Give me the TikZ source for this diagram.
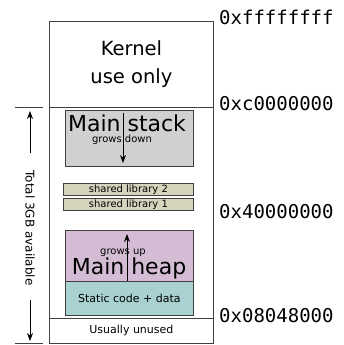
\documentclass[tikz,border=0pt]{standalone}
\usepackage{fontspec}
\setmainfont{DejaVu Sans}
\setmonofont{DejaVu Sans Mono}
\usepackage{tikz}
\usetikzlibrary{arrows.meta, positioning}
\definecolor{stackgray}{HTML}{D0D0D0}
\definecolor{libkhaki}{HTML}{D6D4BC}
\definecolor{heaplilac}{HTML}{D4BDD4}
\definecolor{statteal}{HTML}{A9D1D1}
\definecolor{edgegray}{HTML}{404040}
\tikzset{
		region/.style={draw=edgegray, line width=0.8pt, inner sep=0pt, anchor=north west},
		addr/.style={font=\ttfamily\fontsize{19}{19}\selectfont, anchor=west, inner sep=0pt},
		small label/.style={font=\fontsize{10}{10}\selectfont, inner sep=0pt},
		grow label/.style={font=\fontsize{10}{10}\selectfont, inner sep=0pt},
		big label/.style={font=\fontsize{22}{24}\selectfont, inner sep=0pt}
	}
\begin{document}
\begin{tikzpicture}[x=1pt,y=-1pt,>={Stealth[length=8pt,width=6pt]}]
				\useasboundingbox (0,0) rectangle (343,345);
				% address space
				\node[region, minimum width=164, minimum height=322] (space) at (49,21) {};
				\node[region, minimum width=164, minimum height=86, align=center,
					font=\fontsize{19.5}{28}\selectfont] (kernel) at (49,21) {Kernel\\use only};
				\node[region, minimum width=164, minimum height=25,
					font=\fontsize{11}{12}\selectfont] (unused) at (49,318) {Usually unused};
				
				% regions
				\node[region, fill=stackgray, minimum width=128, minimum height=56] (stack) at (65,110) {};
				\node[region, fill=libkhaki, minimum width=130, minimum height=12, small label] (lib2) at (63,183) {shared library 2};
				\node[region, fill=libkhaki, minimum width=130, minimum height=12, small label] (lib1) at (63,198) {shared library 1};
				\node[region, fill=heaplilac, minimum width=128, minimum height=51] (heap) at (65,230) {};
				\node[region, fill=statteal, minimum width=128, minimum height=34,
					font=\fontsize{11}{12}\selectfont] (static) at (65,281) {Static code + data};
				
				\node[big label] (stacktxt) at (127,123) {Main stack};
				\node[grow label] (growsdown) at (122,140) {grows down};
				\node[big label] (heaptxt) at (129,268) {Main heap};
				\node[grow label] (growsup) at (123,253) {grows up};
				\coordinate (sdtop) at (123,113);
				\coordinate (sdbot) at (123,163);
				\coordinate (hutop) at (127,234);
				\coordinate (hubot) at (127,281);
				\draw[->, line width=0.8pt] (sdtop) -- (sdbot);
				\draw[->, line width=0.8pt] (hubot) -- (hutop);
				
				% addresses
				\node[addr] (a4) at (219,17) {0xffffffff};
				\node[addr] (a3) at (219,104) {0xc0000000};
				\node[addr] (a2) at (219,212) {0x40000000};
				\node[addr] (a1) at (219,316) {0x08048000};
				
				% user part
				\coordinate (ttop) at (15,107);
				\coordinate (ttopr) at (43,107);
				\coordinate (tbot) at (15,343);
				\coordinate (tbotr) at (43,343);
				\draw[edgegray, line width=0.8pt] (ttop) -- (ttopr);
				\draw[edgegray, line width=0.8pt] (tbot) -- (tbotr);
				\node[rotate=-90, font=\fontsize{12}{14}\selectfont, inner sep=0pt] (total) at (30,228) {Total 3GB available};
				\coordinate (upfrom) at (30,153);
				\coordinate (upto) at (30,111);
				\coordinate (dnfrom) at (30,300);
				\coordinate (dnto) at (30,341);
				\draw[->, line width=0.8pt] (upfrom) -- (upto);
				\draw[->, line width=0.8pt] (dnfrom) -- (dnto);
			\end{tikzpicture}
\end{document}
